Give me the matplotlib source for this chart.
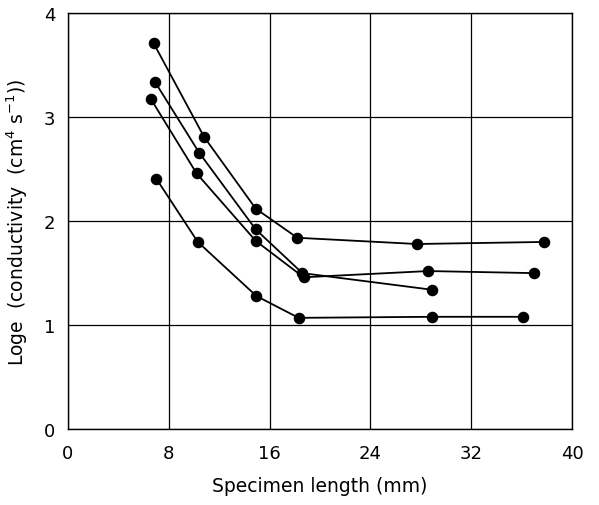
import matplotlib
matplotlib.use("Agg")
import matplotlib.pyplot as plt

# specimen length (mm) and log_e conductivity
len_a = [6.8, 10.8, 14.9, 18.2, 27.7, 37.8]
cond_a = [3.71, 2.81, 2.12, 1.84, 1.78, 1.80]

len_b = [6.9, 10.4, 14.9, 18.6, 28.9]
cond_b = [3.34, 2.66, 1.92, 1.50, 1.34]

len_c = [6.6, 10.2, 14.9, 18.7, 28.6, 37.0]
cond_c = [3.17, 2.46, 1.81, 1.46, 1.52, 1.50]

len_d = [7.0, 10.3, 14.95, 18.3, 28.9, 36.1]
cond_d = [2.41, 1.80, 1.28, 1.07, 1.08, 1.08]

xticks = [0, 8, 16, 24, 32, 40]
yticks = [0, 1, 2, 3, 4]

plt.rcParams['font.family'] = ['DejaVu Sans']

fig = plt.figure(figsize=(5.99, 5.06), dpi=100)
ax = fig.add_axes([0.1135, 0.150, 0.8415, 0.822])

for xs, ys in [(len_a, cond_a), (len_b, cond_b), (len_c, cond_c), (len_d, cond_d)]:
    ax.plot(xs, ys, color="black", lw=1.3, marker="o", ms=7.3, zorder=3)

ax.set_xlim(0, 40)
ax.set_ylim(0, 4)
ax.set_xticks(xticks)
ax.set_yticks(yticks)
ax.grid(True, color="black", lw=0.9)
ax.tick_params(length=0, labelsize=13)
ax.tick_params(axis="x", pad=11)
ax.tick_params(axis="y", pad=9)
for s in ax.spines.values():
    s.set_linewidth(1.0)

ax.set_xlabel("Specimen length (mm)", fontsize=13.5, labelpad=10)
ax.set_ylabel(r"Loge  (conductivity  (cm$^4$ s$^{-1}$))", fontsize=13.5, labelpad=10)

plt.savefig("out.png", dpi=100)
